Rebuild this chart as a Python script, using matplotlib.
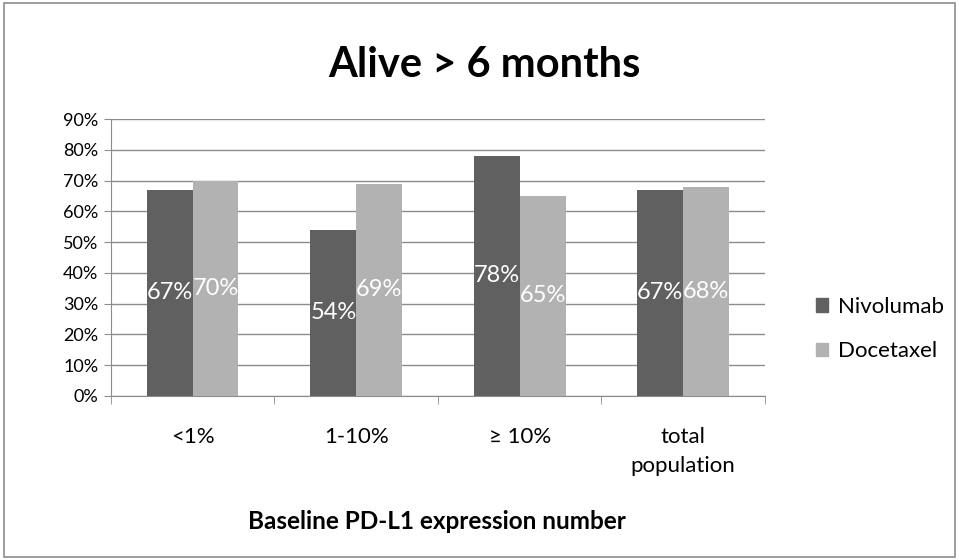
import matplotlib.pyplot as plt
import numpy as np
from matplotlib.patches import Rectangle, Patch

categories = ["<1%", "1-10%", "\u2265 10%", "total\npopulation"]
nivolumab = [0.67, 0.54, 0.78, 0.67]
docetaxel = [0.70, 0.69, 0.65, 0.68]
series_names = ["Nivolumab", "Docetaxel"]
colors = ["#606060", "#b2b2b2"]

plt.rcParams['font.family'] = ['Lato', 'DejaVu Sans']

fig = plt.figure(figsize=(9.59, 5.60), dpi=100)
ax = fig.add_axes([0.1157, 0.2929, 0.682, 0.4946])

x = np.arange(len(categories))
w = 0.28
for vals, off, c in [(nivolumab, -w / 2, colors[0]), (docetaxel, w / 2, colors[1])]:
    bars = ax.bar(x + off, vals, width=w, color=c, zorder=3)
    for b, v in zip(bars, vals):
        ax.text(b.get_x() + b.get_width() / 2, v / 2, f"{round(v * 100)}%",
                ha="center", va="center", color="white", fontsize=17, zorder=4)

ax.set_xlim(-0.5, len(categories) - 0.5)
ax.set_ylim(0, 0.9)
ax.set_yticks(np.arange(0, 0.91, 0.1))
ax.set_yticklabels([f"{int(round(t * 100))}%" for t in np.arange(0, 0.91, 0.1)], fontsize=13)
ax.yaxis.grid(True, color="#8c8c8c", linewidth=1, zorder=0)
ax.tick_params(axis="y", length=5, color="#8c8c8c", pad=4)

ax.set_xticks(x)
ax.set_xticklabels(categories, fontsize=16, linespacing=1.6)
ax.set_xticks(np.arange(-0.5, len(categories), 1), minor=True)
ax.tick_params(axis="x", which="major", length=0, pad=22)
ax.tick_params(axis="x", which="minor", length=6, color="#8c8c8c")

for s in ["top", "right"]:
    ax.spines[s].set_visible(False)
for s in ["left", "bottom"]:
    ax.spines[s].set_color("#8c8c8c")

fig.text(0.456, 0.055, "Baseline PD-L1 expression number", ha="center", va="baseline",
         fontsize=17.5, fontweight="bold")

fig.text(0.505, 0.8625, "Alive > 6 months", ha="center", va="baseline", fontsize=30, fontweight="bold")

handles = [Patch(color=c, label=n) for c, n in zip(colors, series_names)]
fig.legend(handles=handles, loc="center left", bbox_to_anchor=(0.830, 0.4125), frameon=False,
           fontsize=16, handlelength=0.54, handleheight=0.54, handletextpad=0.45, labelspacing=1.1)

fig.patches.append(Rectangle((0.004, 0.006), 0.992, 0.988, transform=fig.transFigure,
                             fill=False, edgecolor="#8c8c8c", linewidth=1.2))

fig.savefig("out.png", dpi=100)
